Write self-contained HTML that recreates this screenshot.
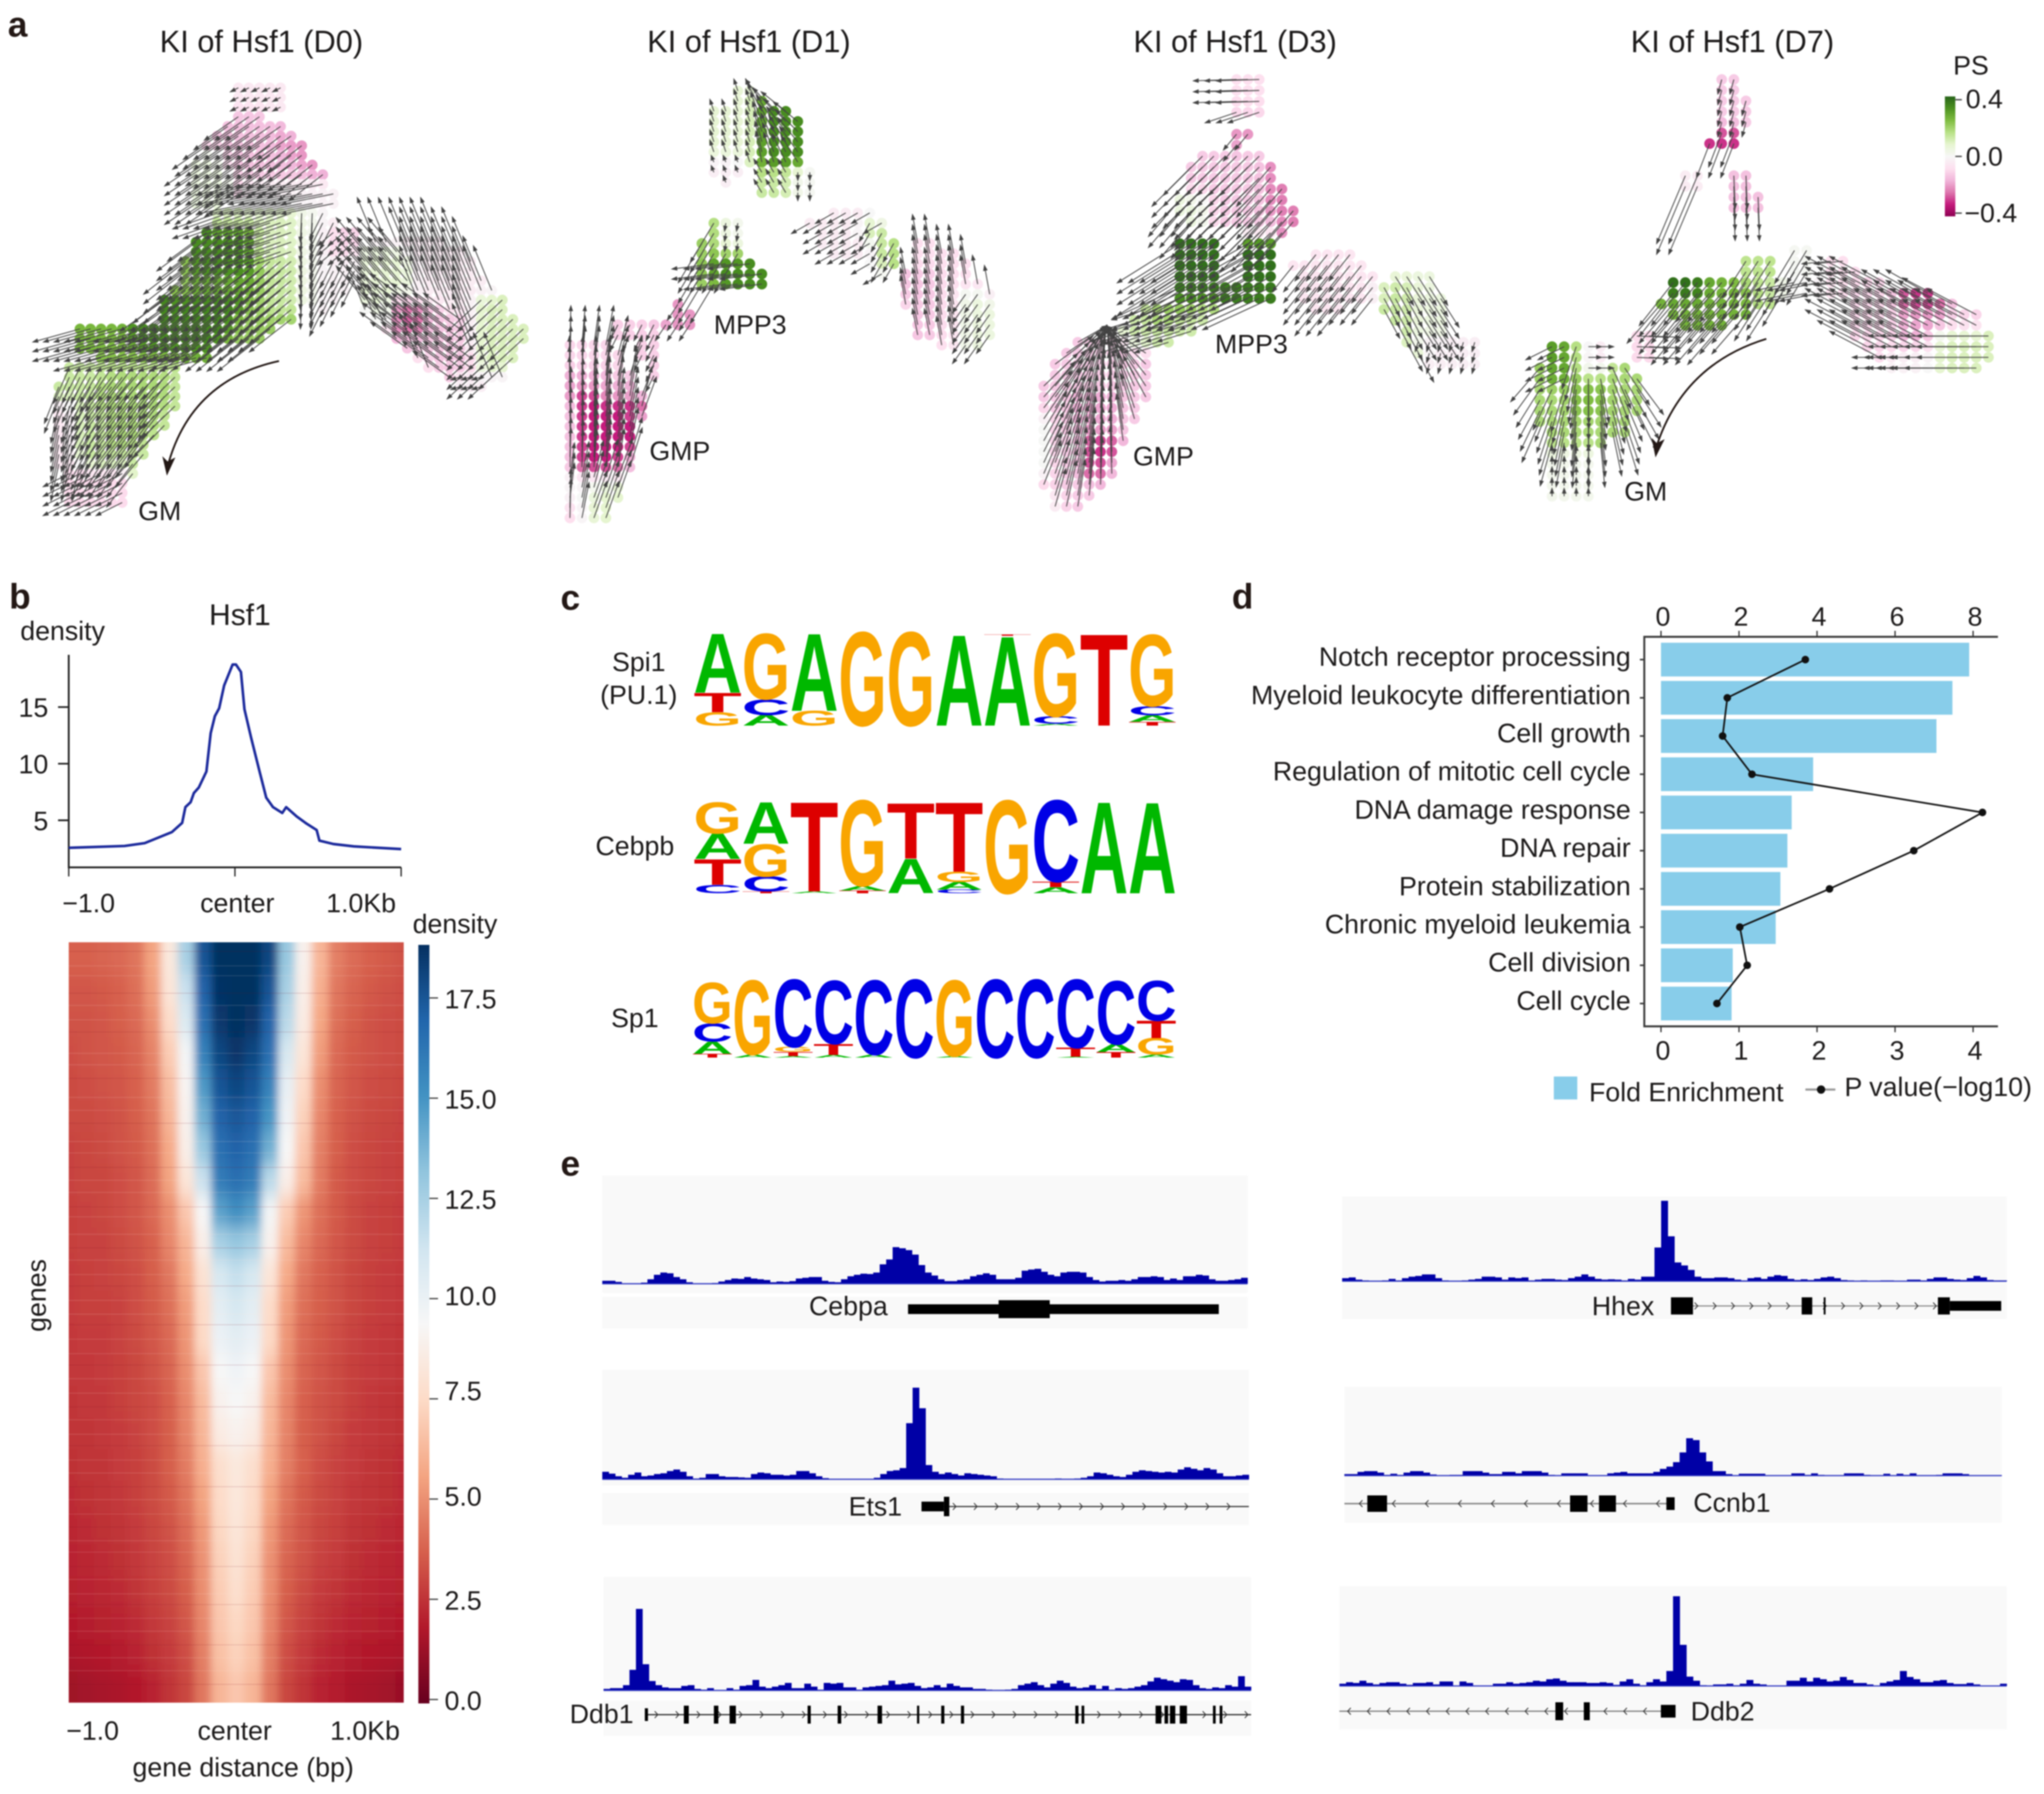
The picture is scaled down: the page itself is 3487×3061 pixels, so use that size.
<!DOCTYPE html>
<html lang="en">
<head>
<meta charset="utf-8">
<title>Hsf1 figure</title>
<style>
html,body{margin:0;padding:0;background:#fff;width:3487px;height:3061px;overflow:hidden}
svg#fig{display:block;filter:blur(1.1px)}
text{font-family:"Liberation Sans",sans-serif;fill:#1c1a1a;font-size:20.5px}
.t{font-size:23.6px;text-anchor:middle}
.m{text-anchor:middle}
.e{text-anchor:end}
.p{font-size:27px;font-weight:bold;fill:#231815}
</style>
</head>
<body>
<svg id="fig" xmlns="http://www.w3.org/2000/svg" width="3487" height="3061" viewBox="0 0 1568 1376.5">
<defs>
<linearGradient id="psGrad" x1="0" y1="1" x2="0" y2="0">
<stop offset="0" stop-color="#8e0152"/><stop offset=".1" stop-color="#c51b7d"/><stop offset=".2" stop-color="#de77ae"/><stop offset=".3" stop-color="#f1b6da"/><stop offset=".4" stop-color="#fde0ef"/><stop offset=".5" stop-color="#f7f7f7"/><stop offset=".6" stop-color="#e6f5d0"/><stop offset=".7" stop-color="#b8e186"/><stop offset=".8" stop-color="#7fbc41"/><stop offset=".9" stop-color="#4d9221"/><stop offset="1" stop-color="#276419"/>
</linearGradient>
<linearGradient id="rdbuGrad" x1="0" y1="1" x2="0" y2="0">
<stop offset="0" stop-color="#67001f"/><stop offset=".1" stop-color="#b2182b"/><stop offset=".2" stop-color="#d6604d"/><stop offset=".3" stop-color="#f4a582"/><stop offset=".4" stop-color="#fddbc7"/><stop offset=".5" stop-color="#f7f7f7"/><stop offset=".6" stop-color="#d1e5f0"/><stop offset=".7" stop-color="#92c5de"/><stop offset=".8" stop-color="#4393c3"/><stop offset=".9" stop-color="#2166ac"/><stop offset="1" stop-color="#053061"/>
</linearGradient>
<clipPath id="heatClip"><rect x="52.7" y="723" width="257" height="583.4"/></clipPath>
<filter id="heatBlur" filterUnits="userSpaceOnUse" x="0" y="660" width="370" height="710"><feGaussianBlur stdDeviation="3.2 7"/></filter>
</defs>

<text class="p" x="6" y="28">a</text>
<text class="p" x="7" y="467">b</text>
<text class="p" x="430" y="468">c</text>
<text class="p" x="945" y="467">d</text>
<text class="p" x="430" y="902">e</text>

<g id="velocity"></g>

<g>
<text class="t" x="200.5" y="40">KI of Hsf1 (D0)</text>
<text class="t" x="574.5" y="40">KI of Hsf1 (D1)</text>
<text class="t" x="947.5" y="40">KI of Hsf1 (D3)</text>
<text class="t" x="1329" y="40">KI of Hsf1 (D7)</text>
<text class="m" x="122.5" y="399">GM</text>
<text class="m" x="575.5" y="256">MPP3</text>
<text class="m" x="521.5" y="353">GMP</text>
<text class="m" x="960" y="271">MPP3</text>
<text class="m" x="892.5" y="357">GMP</text>
<text class="m" x="1262.5" y="384">GM</text>
<path d="M214,277 Q145,292 128,360" fill="none" stroke="#231815" stroke-width="1.4"/>
<polygon points="128,365 124.5,350 128.5,354 134.5,351" fill="#231815"/>
<path d="M1355,260 Q1290,280 1270,345" fill="none" stroke="#231815" stroke-width="1.4"/>
<polygon points="1270,351 1267,336 1271,340 1277,337" fill="#231815"/>
<text class="m" x="1512" y="57">PS</text>
<rect x="1492" y="74" width="8" height="92" fill="url(#psGrad)"/>
<path d="M1500,76.5h5M1500,120h5M1500,163.5h5" stroke="#444" stroke-width="1"/>
<text x="1508" y="83">0.4</text>
<text x="1508" y="127">0.0</text>
<text x="1507" y="170.5">−0.4</text>
</g>

<g id="profile">
<text class="m" x="184" y="479.5" style="font-size:23px">Hsf1</text>
<text class="m" x="48" y="491">density</text>
<path d="M52.7,502.4V665.5H307.7" fill="none" stroke="#222" stroke-width="1.4"/>
<text class="m" x="68" y="700">−1.0</text>
<text class="m" x="182" y="700">center</text>
<text class="m" x="277" y="700">1.0Kb</text>
</g>

<g id="heat">
<text class="m" x="349" y="716">density</text>
<text class="m" x="71" y="1335">−1.0</text>
<text class="m" x="180" y="1335">center</text>
<text class="m" x="280" y="1335">1.0Kb</text>
<text class="m" x="186.5" y="1363">gene distance (bp)</text>
<text class="m" transform="translate(35,994) rotate(-90)">genes</text>
<rect x="320.9" y="725" width="8.5" height="582" fill="url(#rdbuGrad)"/>
</g>

<g id="motifs">
<text class="m" x="490" y="515">Spi1</text>
<text class="m" x="490" y="540">(PU.1)</text>
<text class="m" x="487" y="656">Cebpb</text>
<text class="m" x="487" y="788">Sp1</text>
</g>

<g id="enrich">
<rect x="1192" y="826" width="18" height="17.6" fill="#88cdea"/>
<text x="1219" y="845">Fold Enrichment</text>
<path d="M1385,836H1408" stroke="#999" stroke-width="1.6"/>
<circle cx="1397" cy="836" r="3.2" fill="#111"/>
<text x="1415" y="841">P value(−log10)</text>
</g>

<g id="tracks">
<text class="e" x="681" y="1009">Cebpa</text>
<text class="e" x="692" y="1163">Ets1</text>
<text class="e" x="486" y="1322">Ddb1</text>
<text class="e" x="1269" y="1009">Hhex</text>
<text x="1299" y="1160">Ccnb1</text>
<text x="1297" y="1320">Ddb2</text>
</g>
</svg>

<script>
/* ---------- panel a data: each region = outline in embedding coordinates, PS value, velocity
   v = velocity, v2 = velocity at the region's right side, to/from = convergence or divergence point with len ---------- */
const d0Regions = [
 {o:[[182,63],[200,60],[219,68],[219,88],[180,90]],ps:-.05,v:[-6,3]},
 {o:[[177,88],[209,90],[232,112],[246,126],[254,139],[251,150],[185,155],[155,150],[150,121]],ps:-.14,v:[-26,18]},
 {o:[[205,92],[232,112],[246,126],[252,140],[235,135],[215,115]],ps:-.2,v:[-26,20]},
 {o:[[148,122],[172,115],[178,155],[150,158]],ps:.05,v:[-24,16]},
 {o:[[185,140],[254,138],[258,160],[185,160]],ps:-.02,v:[-40,8]},
 {o:[[160,159],[238,160],[232,197],[160,200]],ps:.1,v:[-34,12]},
 {o:[[140,197],[238,197],[238,225],[225,245],[200,262],[150,268],[125,250]],ps:.2,v:[-32,25]},
 {o:[[205,197],[238,197],[238,225],[222,246],[205,240]],ps:.13,v:[-32,26]},
 {o:[[152,178],[192,178],[196,208],[150,212],[142,200]],ps:.33,v:[-30,22]},
 {o:[[148,210],[200,210],[195,228],[145,228]],ps:.27,v:[-30,23]},
 {o:[[125,230],[188,228],[178,258],[125,268]],ps:.34,v:[-34,24]},
 {o:[[61,250],[105,246],[125,250],[165,270],[165,280],[100,280],[61,272]],ps:.25,v:[-36,10]},
 {o:[[95,250],[125,245],[160,268],[105,272]],ps:.33,v:[-30,10]},
 {o:[[52,280],[140,280],[140,307],[131,322],[111,349],[101,367],[94,385],[54,389],[39,345],[39,307]],ps:.13,v:[-10,28],v2:[-26,24]},
 {o:[[75,290],[130,285],[125,320],[100,345],[80,340]],ps:.18,v:[-20,26]},
 {o:[[37,310],[55,305],[60,345],[62,360],[45,360]],ps:-.05,v:[-6,28]},
 {o:[[46,362],[96,362],[94,387],[54,390]],ps:-.09,v:[-20,10]},
 {o:[[229,161],[242,161],[244,235],[229,235]],ps:.03,v:[-1,22]},
 {o:[[242,161],[262,165],[262,178],[279,178],[279,210],[262,232],[242,240]],ps:-.02,v:[-10,20]},
 {o:[[248,178],[280,178],[278,198],[252,198]],ps:-.1,v:[-12,10]},
 {o:[[286,181],[333,181],[355,193],[382,224],[404,255],[389,289],[367,300],[343,293],[298,260],[274,233]],ps:-.04,v:[-14,-34]},
 {o:[[276,190],[310,185],[318,235],[295,250],[274,232]],ps:.07,v:[-22,-26]},
 {o:[[300,225],[360,245],[362,295],[343,292],[300,258]],ps:-.13,v:[-28,-20]},
 {o:[[301,233],[328,233],[328,257],[305,257]],ps:-.26,v:[-26,-20]},
 {o:[[362,222],[383,225],[404,255],[389,289],[362,285]],ps:.1,v:[-26,24]},
 {o:[[345,285],[382,283],[367,301],[345,298]],ps:-.03,v:[-7,2]}
];
const d1Regions = [
 {o:[[540,85],[560,78],[567,62],[580,70],[585,135],[570,125],[545,130]],ps:.07,v:[-3,-9]},
 {o:[[578,75],[600,80],[615,95],[615,128],[605,135],[590,145],[575,115]],ps:.33,to:[572,61],len:24},
 {o:[[575,125],[612,130],[610,147],[590,150],[580,147]],ps:.13,v:[-6,-10]},
 {o:[[548,118],[570,118],[572,135],[560,145],[545,138]],ps:-.03,v:[-2,-5]},
 {o:[[607,128],[630,130],[628,155],[612,150]],ps:.01,v:[0,6]},
 {o:[[617,172],[640,160],[670,160],[692,190],[680,215],[655,200],[635,195]],ps:-.04,v:[-14,8]},
 {o:[[665,165],[690,190],[692,205],[670,205]],ps:.16,v:[-8,14]},
 {o:[[700,178],[735,195],[768,235],[765,262],[735,268],[705,262],[690,225]],ps:-.08,v:[-4,-22]},
 {o:[[735,215],[768,235],[765,262],[735,268]],ps:.05,v:[-10,14]},
 {o:[[690,205],[716,205],[716,262],[702,258]],ps:-.13,v:[-4,-20]},
 {o:[[540,170],[567,165],[568,200],[545,225],[530,225],[535,200]],ps:.2,v:[-18,30]},
 {o:[[545,200],[586,203],[587,222],[550,225]],ps:.33,v:[-32,4]},
 {o:[[555,168],[567,168],[567,195],[555,190]],ps:.02,v:[-1,6]},
 {o:[[515,232],[535,235],[530,250],[510,250]],ps:-.2,v:[-8,12]},
 {o:[[465,250],[510,240],[510,290],[495,292],[490,262],[465,265]],ps:-.11,v:[-6,12]},
 {o:[[437,258],[470,262],[490,290],[497,310],[480,370],[470,398],[437,398],[428,360],[430,290]],ps:-.1,v:[-1,-30],v2:[12,-30]},
 {o:[[432,285],[490,290],[490,305],[432,305]],ps:-.18,v:[-1,-30],v2:[6,-30]},
 {o:[[440,303],[495,305],[490,330],[478,365],[440,365]],ps:-.32,v:[0,-28],v2:[8,-30]},
 {o:[[435,365],[478,365],[472,398],[438,398]],ps:-.01,v:[3,-26],v2:[12,-30]},
 {o:[[455,380],[478,365],[472,398],[452,398]],ps:.08,v:[10,-28]}
];
const d3Regions = [
 {o:[[943,61],[968,61],[968,78],[943,78]],ps:-.08,v:[-33,1]},
 {o:[[940,78],[968,78],[968,92],[940,92]],ps:-.1,v:[-24,8]},
 {o:[[950,95],[960,95],[956,112],[946,112]],ps:-.2,v:[-10,12]},
 {o:[[929,113],[966,113],[996,162],[993,175],[977,191],[954,180],[925,169],[911,147],[911,131]],ps:-.12,v:[-30,30]},
 {o:[[966,116],[975,120],[996,162],[993,175],[980,185],[968,150]],ps:-.23,v:[-26,30]},
 {o:[[905,150],[930,150],[930,170],[915,178],[905,170]],ps:.05,v:[-24,28]},
 {o:[[925,172],[934,172],[934,178],[925,178]],ps:.25,v:[-10,14]},
 {o:[[899,186],[934,186],[934,235],[899,235]],ps:.38,v:[-48,30]},
 {o:[[954,186],[977,186],[977,235],[954,235]],ps:.38,v:[-46,26]},
 {o:[[899,220],[977,220],[977,235],[899,235]],ps:.36,v:[-52,24]},
 {o:[[880,235],[935,235],[915,258],[890,268],[856,262],[860,248]],ps:.12,v:[-26,8]},
 {o:[[885,232],[925,232],[910,245],[885,248]],ps:.2,v:[-26,12]},
 {o:[[989,202],[1005,195],[1037,195],[1048,204],[1058,213],[1055,233],[1016,240],[1000,235]],ps:-.06,v:[-16,20]},
 {o:[[1069,211],[1101,211],[1113,244],[1108,266],[1094,281],[1076,253],[1060,239]],ps:.05,v:[14,22]},
 {o:[[1060,215],[1078,212],[1084,255],[1094,281],[1076,262],[1060,239]],ps:.13,v:[12,22]},
 {o:[[1087,262],[1138,262],[1138,286],[1098,286]],ps:-.03,v:[-2,7]},
 {o:[[835,255],[863,257],[886,275],[886,292],[876,317],[863,339],[849,374],[831,392],[810,392],[803,381],[794,356],[794,319],[803,279]],ps:-.12,to:[849,250],len:36},
 {o:[[821,297],[860,297],[860,332],[821,332]],ps:-.18,to:[849,250],len:34},
 {o:[[828,332],[856,332],[850,367],[832,367]],ps:-.3,to:[849,250],len:34},
 {o:[[792,320],[804,320],[806,375],[796,365]],ps:.03,to:[849,250],len:34},
 {o:[[803,372],[818,372],[818,392],[808,392]],ps:-.02,to:[849,250],len:30}
];
const d7Regions = [
 {o:[[1315,61],[1338,61],[1343,95],[1332,100],[1315,100]],ps:-.12,v:[-3,11]},
 {o:[[1308,108],[1318,98],[1335,98],[1337,118],[1310,118]],ps:-.3,v:[-10,26]},
 {o:[[1283,128],[1305,128],[1305,145],[1285,145]],ps:-.04,v:[-22,52]},
 {o:[[1325,128],[1337,128],[1350,148],[1350,162],[1330,162]],ps:-.14,v:[1,25]},
 {o:[[1370,186],[1386,186],[1386,231],[1365,231]],ps:.01,v:[-15,25]},
 {o:[[1334,195],[1362,195],[1366,232],[1352,235],[1334,231]],ps:.15,v:[-18,28]},
 {o:[[1283,211],[1342,218],[1348,232],[1342,245],[1322,252],[1290,252],[1272,232]],ps:.26,v:[-26,30]},
 {o:[[1280,211],[1305,211],[1305,228],[1272,232]],ps:.38,v:[-26,33]},
 {o:[[1396,196],[1422,196],[1425,215],[1422,226],[1396,226]],ps:-.08,v:[-22,2]},
 {o:[[1370,215],[1396,215],[1396,226],[1370,226]],ps:0,v:[-30,6]},
 {o:[[1254,252],[1267,252],[1267,275],[1254,275]],ps:-.09,v:[24,1]},
 {o:[[1419,215],[1471,218],[1517,239],[1528,253],[1528,272],[1517,283],[1453,284],[1425,263],[1417,245]],ps:-.1,v:[-38,-20]},
 {o:[[1453,241],[1497,241],[1497,266],[1453,266]],ps:-.18,v:[-38,-20]},
 {o:[[1458,219],[1480,217],[1494,232],[1494,241],[1460,241]],ps:-.3,v:[-32,-18]},
 {o:[[1484,253],[1528,253],[1528,272],[1517,283],[1484,285]],ps:.1,v:[-55,0]},
 {o:[[1440,272],[1484,272],[1484,285],[1453,285]],ps:-.02,v:[-30,0]},
 {o:[[1183,262],[1218,262],[1240,280],[1262,285],[1262,310],[1245,335],[1228,345],[1190,345],[1172,310],[1180,290]],ps:.18,from:[1218,240],len:34},
 {o:[[1200,295],[1236,295],[1232,320],[1205,320]],ps:.24,from:[1218,240],len:30},
 {o:[[1183,260],[1209,260],[1209,295],[1183,295]],ps:.3,v:[-20,10]},
 {o:[[1218,262],[1236,262],[1236,284],[1218,284]],ps:-.04,v:[10,0]},
 {o:[[1185,345],[1226,345],[1224,382],[1190,382]],ps:.02,v:[0,-6]}
];
const velocityPanels = [["d0",d0Regions,8.1,7.4],["d1",d1Regions,9.2,7.8],["d3",d3Regions,8.7,8.4],["d7",d7Regions,9.3,8.2]];

/* ---------- panel b data ---------- */
const profileDistance = [-1,-.664,-.543,-.379,-.318,-.298,-.267,-.247,-.217,-.172,-.146,-.121,-.095,-.065,-.014,.006,.036,.057,.097,.148,.188,.229,.285,.308,.371,.431,.492,.508,.593,.715,1];
const profileDensity = [2.57,2.73,2.99,3.96,4.77,6.16,6.6,7.4,7.9,9.3,12.7,14.2,14.9,16.9,18.75,18.75,18.1,14.8,12.3,9.3,7,6.16,5.65,6.16,5.35,4.7,4.14,3.2,2.9,2.7,2.46];
const profileYTicks = [5,10,15];
const profileXTicks = [-1,0,1];
const heatDistance = [-1,-.9,-.8,-.7,-.6,-.5,-.4,-.3,-.2,-.1,0,.1,.2,.3,.4,.5,.6,.7,.8,.9,1];
const heatRows = [
[3.8,3.8,3.9,4,4.3,5.6,8.4,12.5,17.5,18.8,18.8,18.8,18,13,9,6.2,4.6,4.1,3.8,3.6,3.4],
[3.5,3.5,3.6,3.8,4.2,5.4,8.2,11.5,17,18.7,18.8,18.8,17.5,12.5,8.8,6,4.4,3.9,3.6,3.4,3.3],
[3.4,3.4,3.5,3.7,4,5,7.6,10.8,16.5,18.5,18.8,18.6,17,12,8.6,5.7,4.2,3.7,3.4,3.3,3.2],
[3.3,3.4,3.5,3.6,3.9,4.7,7,9.6,15.8,18,18.6,18,16.5,11,8.2,5.4,4,3.6,3.4,3.3,3.2],
[3.2,3.3,3.4,3.5,3.8,4.5,6.5,9.2,14.8,17.5,18,17.5,15.8,10.2,7.6,5,3.9,3.5,3.3,3.2,3.1],
[3.2,3.2,3.3,3.4,3.7,4.3,6.2,9,14,17,17.4,17,15,9.8,7.2,4.8,3.8,3.4,3.2,3.1,3],
[3,3.1,3.2,3.4,3.6,4.2,5.8,8.8,13,16.5,17,16.5,14,9.4,6.8,4.6,3.7,3.3,3.1,3,2.9],
[3,3.1,3.1,3.3,3.5,4.1,5.6,8.2,11.5,16,16.5,16,12,8.8,6.4,4.5,3.6,3.3,3.1,3,2.9],
[2.9,3,3.1,3.3,3.5,4,5,6.8,9.4,14.5,15.2,14.5,9.6,7,5.2,4.2,3.6,3.2,3,2.9,2.8],
[2.9,3,3,3.2,3.4,3.8,4.8,6.2,8.8,12.5,13,12.5,9,6.4,4.8,4,3.5,3.2,3,2.9,2.8],
[2.8,2.9,3,3.1,3.3,3.7,4.4,5.8,8,11,11.6,11,8.2,5.8,4.4,3.8,3.4,3.1,2.9,2.8,2.7],
[2.8,2.9,2.9,3,3.3,3.6,4.2,5.4,7.6,10.4,11,10.4,7.6,5.4,4.2,3.7,3.4,3.1,2.9,2.8,2.7],
[2.7,2.8,2.8,3,3.2,3.5,4,5.2,7.5,10,10.4,10,7.5,5.2,4,3.6,3.3,3,2.8,2.7,2.6],
[2.7,2.7,2.8,2.9,3.1,3.4,3.9,5,6.8,9.4,9.8,9.4,6.8,5,3.9,3.5,3.2,2.9,2.8,2.7,2.6],
[2.6,2.7,2.7,2.9,3.1,3.3,3.8,4.8,6.4,9,9.4,9,6.4,4.8,3.8,3.4,3.2,2.9,2.7,2.6,2.5],
[2.6,2.6,2.7,2.8,3,3.3,3.7,4.7,6.2,8.6,9,8.6,6.2,4.7,3.7,3.4,3.1,2.8,2.7,2.6,2.5],
[2.5,2.6,2.6,2.8,2.9,3.2,3.7,4.5,6,7.8,8.4,7.8,6,4.6,3.8,3.3,3,2.8,2.6,2.5,2.4],
[2.4,2.5,2.6,2.7,2.9,3.2,3.6,4.3,5.6,7.6,8.3,7.6,5.6,4.3,3.6,3.2,3,2.7,2.6,2.5,2.4],
[2.3,2.4,2.5,2.6,2.8,3.1,3.4,4.1,5.3,7.4,8.2,7.4,5.3,4.1,3.5,3.1,2.9,2.6,2.5,2.4,2.3],
[2.2,2.3,2.4,2.5,2.7,3,3.3,3.9,5.1,7.2,8,7.2,5.1,3.9,3.4,3,2.8,2.5,2.4,2.3,2.2],
[2.1,2.2,2.3,2.4,2.6,2.9,3.2,3.7,5,7,7.8,7,5,3.7,3.2,2.8,2.6,2.4,2.3,2.2,2.1],
[1.9,2,2.1,2.2,2.4,2.7,3,3.5,4.8,6.8,7.4,6.8,4.8,3.5,3,2.6,2.4,2.2,2.1,2,1.9],
[1.7,1.8,1.9,2,2.2,2.5,2.8,3.3,4.6,6.6,7.2,6.6,4.6,3.3,2.8,2.4,2.2,2,1.9,1.8,1.7],
[1.4,1.5,1.6,1.7,1.9,2.2,2.6,3.1,4.4,6.2,6.8,6.2,4.4,3.1,2.6,2.2,2,1.7,1.6,1.5,1.2]
];
const heatStreakRows = [.012,.031,.044,.067,.083,.102,.118,.146,.161,.179,.204,.221,.238,.262,.277,.296,.313,.329,.348,.361,.384,.402,.418,.437,.452,.471,.489,.503,.522,.541,.556,.574,.593,.611,.628,.647,.662,.681,.698,.716,.733,.752,.769,.787,.802,.821,.838,.857,.871,.889,.906,.924,.941,.958,.976];
const densityTicks = [0,2.5,5,7.5,10,12.5,15,17.5];
const densityTickLabels = ["0.0","2.5","5.0","7.5","10.0","12.5","15.0","17.5"];

/* ---------- panel c data: stacks listed from bottom to top, [letter, share of logo height] ---------- */
const spi1Motif = [
 [["G",.145],["T",.21],["A",.645]],
 [["A",.115],["C",.17],["G",.715]],
 [["G",.16],["A",.84]],
 [["G",1.02]],
 [["G",1.02]],
 [["A",.985]],
 [["A",.97],["T",.015]],
 [["A",.02],["C",.08],["G",.9]],
 [["T",.995]],
 [["T",.04],["A",.07],["C",.1],["G",.78]]
];
const cebpbMotif = [
 [["C",.09],["T",.275],["A",.27],["G",.335]],
 [["T",.02],["C",.16],["G",.35],["A",.445]],
 [["A",.02],["T",.96]],
 [["T",.03],["A",.05],["G",.92]],
 [["A",.37],["T",.595]],
 [["C",.04],["A",.08],["G",.11],["T",.745]],
 [["G",1]],
 [["A",.065],["T",.06],["C",.875]],
 [["A",.98]],
 [["A",.975]]
];
const sp1Motif = [
 [["T",.05],["A",.155],["C",.23],["G",.52]],
 [["A",.04],["G",.95]],
 [["A",.02],["T",.055],["G",.06],["C",.865]],
 [["A",.035],["T",.14],["C",.81]],
 [["A",.04],["C",.95]],
 [["C",1]],
 [["A",.02],["G",.97]],
 [["C",1]],
 [["C",1]],
 [["A",.01],["T",.115],["C",.875]],
 [["T",.07],["A",.1],["C",.81]],
 [["A",.04],["G",.21],["T",.22],["C",.51]]
];

/* ---------- panel d data ---------- */
const goTerms = ["Notch receptor processing","Myeloid leukocyte differentiation","Cell growth","Regulation of mitotic cell cycle","DNA damage response","DNA repair","Protein stabilization","Chronic myeloid leukemia","Cell division","Cell cycle"];
const foldEnrichment = [7.9,7.47,7.06,3.9,3.35,3.24,3.06,2.94,1.84,1.81];
const pValueLog10 = [1.85,.85,.79,1.166,4.12,3.24,2.16,1.01,1.105,.717];
const foldTicks = [0,2,4,6,8];
const pValueTicks = [0,1,2,3,4];

/* ---------- panel e data: 100 signal bins per track ---------- */
const cebpaSignal = [8,8,5,1,1,1,3,12,24,30,28,18,12,4,1,1,1,2,6,10,14,13,18,14,12,10,4,6,5,7,14,16,18,18,8,5,4,12,20,24,27,26,30,52,65,98,95,90,78,50,30,22,12,7,7,10,12,20,24,28,24,12,12,12,16,35,38,40,32,24,20,30,32,32,30,18,10,6,8,8,10,8,12,18,18,20,18,10,14,10,20,20,24,22,12,8,8,10,12,16];
const ets1Signal = [20,15,8,4,12,18,8,10,14,16,22,26,20,8,2,4,14,14,8,6,6,5,4,14,18,16,12,12,10,12,22,22,16,8,3,1,1,1,1,1,1,1,4,14,22,24,30,150,245,190,38,20,14,18,14,10,16,14,12,10,8,2,1,1,1,1,1,1,1,1,2,1,1,2,4,8,18,16,12,8,6,12,20,24,22,20,18,20,18,26,32,28,24,30,26,16,8,8,10,12];
const ddb1Signal = [4,6,6,14,55,218,70,25,14,8,6,6,12,14,4,2,6,1,1,6,2,12,14,28,10,6,10,14,20,6,6,18,10,2,20,18,20,8,8,2,8,10,12,14,26,16,18,20,12,6,8,14,8,18,12,8,8,4,4,2,1,1,2,4,14,18,22,14,8,18,26,20,10,6,8,14,4,12,2,6,4,6,10,14,24,34,30,26,22,30,28,14,6,4,8,6,14,10,38,10];
const hhexSignal = [8,10,4,2,1,1,2,6,2,8,12,14,18,18,8,2,1,1,2,4,6,12,12,10,4,10,8,10,2,4,6,6,4,3,8,12,18,12,6,4,5,4,2,6,4,12,12,90,215,120,50,42,30,12,8,8,10,10,8,4,2,8,10,6,12,16,14,6,3,5,3,6,10,12,8,3,2,1,2,1,1,2,2,1,1,4,4,2,6,10,10,6,4,3,8,14,10,3,2,2];
const ccnb1Signal = [4,4,10,12,12,8,2,5,2,8,12,12,8,3,1,1,2,2,12,12,12,8,4,4,10,10,6,12,12,12,8,2,1,6,6,6,6,1,1,1,6,8,10,6,6,6,6,10,18,24,36,62,100,95,62,38,12,12,4,1,5,5,5,5,1,1,1,1,6,6,2,6,2,1,1,1,6,6,6,2,1,1,5,1,5,2,6,1,1,1,2,6,6,6,4,1,1,1,1,1];
const ddb2Signal = [6,10,8,14,8,4,8,10,10,6,3,8,8,10,4,12,12,1,12,8,1,1,1,6,6,10,6,8,10,14,12,18,20,14,10,10,10,8,8,10,8,3,12,18,6,2,10,18,12,40,240,110,25,14,2,1,4,4,6,2,6,16,6,4,1,1,1,14,14,22,12,22,18,12,14,24,16,8,8,4,1,8,12,16,40,24,18,10,10,14,16,8,5,5,8,4,1,1,1,6];
const cebpaExons = [[770,1463,13],[972,1086,24]];
const ets1Exons = [[800,850,13],[850,862,26]];
const ddb1Exons = [[183,190,17],[270,281,24],[337,347,24],[372,386,24],[546,553,24],[613,621,24],[702,712,24],[790,795,24],[844,851,24],[888,895,24],[1143,1150,24],[1157,1163,24],[1322,1335,24],[1342,1350,24],[1354,1366,24],[1376,1392,24],[1450,1456,24],[1465,1471,24]];
const hhexExons = [[755,803,23],[1040,1063,23],[1088,1092,23],[1337,1363,23],[1363,1475,13]];
const ccnb1Exons = [[93,136,22],[535,573,22],[598,635,22],[745,763,17]];
const ddb2Exons = [[503,520,24],[565,578,24],[733,765,17]];

/* ---------- helpers ---------- */
const NS = "http://www.w3.org/2000/svg";
function mk(tag, attrs, parent){
  const n = document.createElementNS(NS, tag);
  for (const k in attrs) n.setAttribute(k, attrs[k]);
  parent.appendChild(n);
  return n;
}
function hexRgb(h){return [parseInt(h.slice(1,3),16),parseInt(h.slice(3,5),16),parseInt(h.slice(5,7),16)];}
function ramp(stops,t){
  t=Math.max(0,Math.min(1,t))*(stops.length-1);
  const i=Math.min(stops.length-2,Math.floor(t)),f=t-i,a=hexRgb(stops[i]),b=hexRgb(stops[i+1]);
  return "rgb("+a.map((c,k)=>Math.round(c+(b[k]-c)*f)).join(",")+")";
}
const PIYG=["#8e0152","#c51b7d","#de77ae","#f1b6da","#fde0ef","#f7f7f7","#e6f5d0","#b8e186","#7fbc41","#4d9221","#276419"];
const RDBU=["#67001f","#b2182b","#d6604d","#f4a582","#fddbc7","#f7f7f7","#d1e5f0","#92c5de","#4393c3","#2166ac","#053061"];
function psColor(p){return ramp(PIYG,(p+.4)/.8);}
function densityColor(v){return ramp(RDBU,v/18.8);}
function inPoly(x,y,o){
  let c=false;
  for(let i=0,j=o.length-1;i<o.length;j=i++){
    if((o[i][1]>y)!==(o[j][1]>y)&&x<(o[j][0]-o[i][0])*(y-o[i][1])/(o[j][1]-o[i][1])+o[i][0])c=!c;
  }
  return c;
}
function velocityAt(r,x,y){
  if(r.to||r.from){
    const p=r.to||r.from,s=r.to?1:-1;
    const dx=(p[0]-x)*s,dy=(p[1]-y)*s,d=Math.hypot(dx,dy)||1;
    const l=r.to?Math.min(r.len,d):r.len;
    return [dx/d*l,dy/d*l];
  }
  if(r.v2){
    const xs=r.o.map(p=>p[0]),a=Math.min.apply(null,xs),b=Math.max.apply(null,xs),t=(x-a)/((b-a)||1);
    return [r.v[0]+(r.v2[0]-r.v[0])*t,r.v[1]+(r.v2[1]-r.v[1])*t];
  }
  return r.v;
}

/* ---------- panel a ---------- */
const velRoot=document.getElementById("velocity");
velocityPanels.forEach(function(panel){
  const id=panel[0],regions=panel[1],sx=panel[2],sy=panel[3];
  const g=mk("g",{},velRoot);
  
  
  let x0=1e9,x1=-1e9,y0=1e9,y1=-1e9;
  regions.forEach(r=>r.o.forEach(p=>{x0=Math.min(x0,p[0]);x1=Math.max(x1,p[0]);y0=Math.min(y0,p[1]);y1=Math.max(y1,p[1]);}));
  const cells=[],byKey={};
  for(let iy=0;y0+iy*sy<=y1;iy++){
    for(let ix=0;x0+ix*sx<=x1;ix++){
      const x=x0+ix*sx,y=y0+iy*sy;
      for(let k=regions.length-1;k>=0;k--){
        if(inPoly(x,y,regions[k].o)){
          const cell={x:x,y:y,r:regions[k],ix:ix,iy:iy};
          cells.push(cell);
          byKey[ix+","+iy]=cell;
          break;
        }
      }
    }
  }
  cells.forEach(function(c){
    let sum=c.r.ps*3,w=3;
    [[1,0],[-1,0],[0,1],[0,-1]].forEach(function(d){
      const n=byKey[(c.ix+d[0])+","+(c.iy+d[1])];
      if(n){sum+=n.r.ps;w+=1;}
    });
    const dot=mk("circle",{cx:c.x.toFixed(1),cy:c.y.toFixed(1),r:4.1,fill:psColor(sum/w)},g);
    
    
  });
  cells.forEach(function(c){
    const v=velocityAt(c.r,c.x,c.y);
    const vx=v[0],vy=v[1],ex=c.x+vx,ey=c.y+vy,L=Math.hypot(vx,vy)||1,ux=vx/L,uy=vy/L;
    const hl=Math.min(3.6,L*.6),hw=1.25;
    const ar=mk("path",{d:"M"+c.x.toFixed(1)+","+c.y.toFixed(1)+"L"+ex.toFixed(1)+","+ey.toFixed(1)+
      "M"+ex.toFixed(1)+","+ey.toFixed(1)+"L"+(ex-ux*hl-uy*hw).toFixed(1)+","+(ey-uy*hl+ux*hw).toFixed(1)+"L"+(ex-ux*hl+uy*hw).toFixed(1)+","+(ey-uy*hl-ux*hw).toFixed(1)+"Z",
      stroke:"#444","stroke-width":.7,fill:"#3a3a3a"},g);
    
    
  });
});

/* ---------- panel b ---------- */
const profX=v=>180.2+v*127.5;
const profY=v=>629.4-(v-5)*8.69;
const profRoot=document.getElementById("profile");
profileYTicks.forEach(function(t){
  const l=mk("line",{x1:44.5,x2:52.7,y1:profY(t),y2:profY(t),stroke:"#222","stroke-width":1.3},profRoot);
  
  
  const s=mk("text",{x:37,y:profY(t)+7.5,"text-anchor":"end"},profRoot);
  s.textContent=String(t);
  
  
});
profileXTicks.forEach(function(t){
  const l=mk("line",{x1:profX(t),x2:profX(t),y1:665.5,y2:672.5,stroke:"#222","stroke-width":1},profRoot);
  
  
});
const profLine=mk("path",{d:profileDistance.map((d,i)=>(i?"L":"M")+profX(d).toFixed(1)+","+profY(profileDensity[i]).toFixed(1)).join(""),fill:"none",stroke:"#1c2a9c","stroke-width":2,"stroke-linejoin":"round"},profRoot);



const heatRoot=document.getElementById("heat");
const heatClip=mk("g",{"clip-path":"url(#heatClip)"},heatRoot);
const heatBlur=mk("g",{filter:"url(#heatBlur)"},heatClip);


const heatX=k=>52.7+(k+1)/2*257;
const heatY=f=>723+f*583.4;
const nRows=heatRows.length,nCols=heatDistance.length;
heatRows.forEach(function(row,r){
  const yTop=r===0?heatY(0)-40:heatY(r/nRows);
  const yBot=r===nRows-1?heatY(1)+40:heatY((r+1)/nRows);
  row.forEach(function(v,c){
    const hw=257/(nCols-1)/2;
    const xL=c===0?heatX(heatDistance[c])-40:heatX(heatDistance[c])-hw;
    const xR=c===nCols-1?heatX(heatDistance[c])+40:heatX(heatDistance[c])+hw;
    const cell=mk("rect",{x:xL.toFixed(2),y:yTop.toFixed(2),width:(xR-xL+.4).toFixed(2),height:(yBot-yTop+.4).toFixed(2),fill:densityColor(v)},heatBlur);
    
    
  });
});
heatStreakRows.forEach(function(f,i){
  const s=mk("line",{x1:52.7,x2:309.7,y1:heatY(f),y2:heatY(f),stroke:i%3===0?"#7a0c20":"#ffe8dc","stroke-width":.6,opacity:.16},heatClip);
  
  
});
const densityY=v=>1304-v*30.76;
densityTicks.forEach(function(t,i){
  const l=mk("line",{x1:329.4,x2:336,y1:densityY(t),y2:densityY(t),stroke:"#333","stroke-width":.9},heatRoot);
  
  
  const nudge=t===7.5?-7:(t===5||t===10)?-3:0;
  const s=mk("text",{x:341,y:densityY(t)+8+nudge},heatRoot);
  s.textContent=densityTickLabels[i];
  
  
});

/* ---------- panel c ---------- */
const LETTER_COLOR={A:"#00b800",C:"#0000e6",G:"#f9a500",T:"#dd0000"};
const LETTER_ADV={A:72.2,C:72.2,G:77.8,T:61.1};
const motifRoot=document.getElementById("motifs");
function drawMotif(stacks,name,x0,x1,bottom,fullHeight){
  const w=(x1-x0)/stacks.length;
  stacks.forEach(function(stack,i){
    let y=bottom;
    stack.forEach(function(part){
      const h=part[1]*fullHeight;
      const s=mk("text",{transform:"translate("+(x0+i*w).toFixed(2)+","+y.toFixed(2)+") scale("+(w/LETTER_ADV[part[0]]).toFixed(4)+","+(h/70).toFixed(4)+")",style:"font-size:100px;font-weight:bold;fill:"+LETTER_COLOR[part[0]]},motifRoot);
      s.textContent=part[0];
      
      
      y-=h;
    });
  });
}
drawMotif(spi1Motif,"spi1-motif",532,902.5,556.7,71);
drawMotif(cebpbMotif,"cebpb-motif",532,902.5,685.4,72);
drawMotif(sp1Motif,"sp1-motif",531,902.5,811.5,60.5);

/* ---------- panel d ---------- */
const enrichRoot=document.getElementById("enrich");
const foldX=v=>1274.2+v*29.93;
const pX=v=>1274.2+v*59.86;
const termY=i=>506.1+i*29.32;
goTerms.forEach(function(term,i){
  const b=mk("rect",{x:foldX(0),y:termY(i)-12.95,width:foldX(foldEnrichment[i])-foldX(0),height:25.9,fill:"#88cdea"},enrichRoot);
  
  
  const t=mk("text",{x:1251,y:termY(i)+4.8,"text-anchor":"end"},enrichRoot);
  t.textContent=term;
  
  
  const k=mk("line",{x1:1258,x2:1261.4,y1:termY(i),y2:termY(i),stroke:"#333","stroke-width":1.2},enrichRoot);
  
  
});
const frame=mk("path",{d:"M1532.7,488.6H1261.4V787.5H1532.7",fill:"none",stroke:"#3a3a3a","stroke-width":1.5},enrichRoot);


foldTicks.forEach(function(t){
  const l=mk("line",{x1:foldX(t),x2:foldX(t),y1:484,y2:488.6,stroke:"#333","stroke-width":1},enrichRoot);
  
  
  const s=mk("text",{x:foldX(t)+1.5,y:480,"text-anchor":"middle"},enrichRoot);
  s.textContent=String(t);
  
  
});
pValueTicks.forEach(function(t){
  const l=mk("line",{x1:pX(t),x2:pX(t),y1:787.5,y2:792,stroke:"#333","stroke-width":1},enrichRoot);
  
  
  const s=mk("text",{x:pX(t)+1.5,y:813,"text-anchor":"middle"},enrichRoot);
  s.textContent=String(t);
  
  
});
const pLine=mk("path",{d:pValueLog10.map((v,i)=>(i?"L":"M")+pX(v).toFixed(1)+","+termY(i).toFixed(1)).join(""),fill:"none",stroke:"#111","stroke-width":1.3},enrichRoot);


pValueLog10.forEach(function(v,i){
  const d=mk("circle",{cx:pX(v),cy:termY(i),r:2.9,fill:"#111"},enrichRoot);
  
  
});

/* ---------- panel e ---------- */
const trackRoot=document.getElementById("tracks");
const SIGNAL_K=1/3.487;
function drawTrack(name,signal,x0,x1,bgTop,bgBot,base,geneTop,geneBot,geneY,origin,kx,exons,lineStart,lineEnd,dir,lineColor,lineWidth,step){
  const tx=v=>origin+v*kx;
  const lb=trackRoot.firstChild;
  const bg=mk("rect",{x:x0,y:bgTop,width:x1-x0,height:bgBot-bgTop,fill:"#f9f9f9"},trackRoot);
  trackRoot.insertBefore(bg,lb);
  
  
  const gb=mk("rect",{x:x0,y:geneTop,width:x1-x0,height:geneBot-geneTop,fill:"#f9f9f9"},trackRoot);
  trackRoot.insertBefore(gb,lb);
  
  
  const w=(x1-x0)/signal.length;
  signal.forEach(function(v,i){
    const h=v*SIGNAL_K;
    const b=mk("rect",{x:(x0+i*w).toFixed(2),y:(base-h).toFixed(2),width:(w+.2).toFixed(2),height:h.toFixed(2),fill:"#0000a6"},trackRoot);
    
    
  });
  const bl=mk("line",{x1:x0,x2:x1,y1:base,y2:base,stroke:"#2a33c0","stroke-width":.9},trackRoot);
  
  
  if(lineEnd>lineStart){
    const gl=mk("line",{x1:tx(lineStart),x2:tx(lineEnd),y1:geneY,y2:geneY,stroke:lineColor,"stroke-width":lineWidth},trackRoot);
    
    
    for(let u=lineStart+step/2;u<lineEnd-8;u+=step){
      const px=tx(u);
      const ch=mk("path",{d:"M"+(px-dir*1.2)+","+(geneY-2.6)+"L"+(px+dir*1.2)+","+geneY+"L"+(px-dir*1.2)+","+(geneY+2.6),fill:"none",stroke:"#333","stroke-width":.7},trackRoot);
      
      
    }
  }
  exons.forEach(function(e){
    const ex=mk("rect",{x:tx(e[0]),y:geneY-e[2]*SIGNAL_K,width:tx(e[1])-tx(e[0]),height:2*e[2]*SIGNAL_K,fill:"#000"},trackRoot);
    
    
  });
}
const LEFT_O=431.7,LEFT_K=1/2.907,RIGHT_O=1016.2,RIGHT_K=1/2.842;
drawTrack("cebpa",cebpaSignal,462,957,901.8,992,985,995,1019.3,1004.5,LEFT_O,LEFT_K,cebpaExons,0,0,1,"#333",.9,47);
drawTrack("ets1",ets1Signal,462,958,1050.9,1139.8,1135,1145.5,1170,1155.9,LEFT_O,LEFT_K,ets1Exons,850,1530,1,"#333",.9,47);
drawTrack("ddb1",ddb1Signal,463,959.7,1210,1299,1297,1304.7,1332,1315.6,LEFT_O,LEFT_K,ddb1Exons,185,1535,1,"#222",.9,47);
drawTrack("hhex",hhexSignal,1029.6,1539.4,918,985,983,985,1012,1002,RIGHT_O,RIGHT_K,hhexExons,790,1340,1,"#888",.9,40);
drawTrack("ccnb1",ccnb1Signal,1031.3,1535.6,1064,1134,1132.2,1134,1168.3,1153.7,RIGHT_O,RIGHT_K,ccnb1Exons,43,750,-1,"#888",1.2,72);
drawTrack("ddb2",ddb2Signal,1027.5,1539.4,1217,1295,1293.6,1295,1327,1313,RIGHT_O,RIGHT_K,ddb2Exons,32,740,-1,"#777",.9,43);
</script>
</body>
</html>
